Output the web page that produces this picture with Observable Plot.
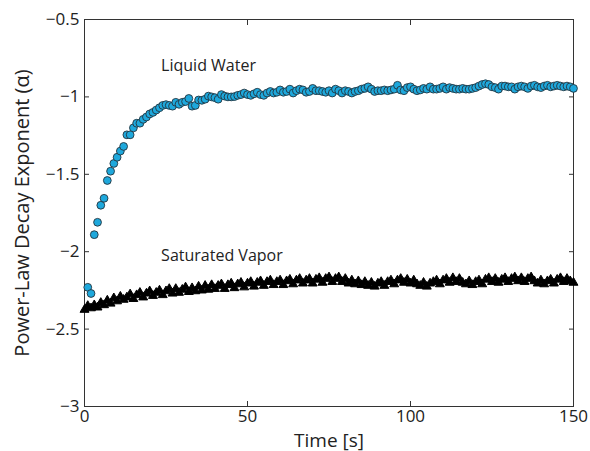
<!DOCTYPE html>
<html><head><meta charset="utf-8">
<script src="https://cdn.jsdelivr.net/npm/d3@7"></script>
<script src="https://cdn.jsdelivr.net/npm/@observablehq/plot@0.6"></script>
<style>body{margin:0;background:#fff;font-family:"Open Sans",sans-serif}</style>
</head><body><div id="chart"></div>
<script>
// Liquid water: one sample per second, t = 1..150
const liquidTime = d3.range(1, 151);
const liquidAlpha = [
 -2.23,-2.27,-1.89,-1.81,-1.70,-1.655,-1.54,-1.48,-1.43,-1.39,
 -1.35,-1.32,-1.245,-1.245,-1.20,-1.17,-1.17,-1.145,-1.13,-1.11,
 -1.10,-1.085,-1.07,-1.055,-1.05,-1.055,-1.06,-1.035,-1.048,-1.035,
 -1.03,-1.01,-1.06,-1.055,-1.02,-1.022,-1.015,-0.995,-1.0,-1.005,
 -1.015,-0.985,-0.995,-1.0,-1.0,-0.998,-0.99,-0.985,-0.975,-0.985,
 -0.99,-0.98,-0.97,-0.985,-0.99,-0.975,-0.965,-0.975,-0.97,-0.955,
 -0.97,-0.965,-0.95,-0.975,-0.96,-0.95,-0.955,-0.97,-0.965,-0.945,
 -0.96,-0.96,-0.965,-0.97,-0.96,-0.975,-0.95,-0.96,-0.975,-0.96,
 -0.965,-0.975,-0.965,-0.96,-0.95,-0.945,-0.935,-0.95,-0.965,-0.96,
 -0.96,-0.955,-0.96,-0.955,-0.95,-0.925,-0.955,-0.96,-0.94,-0.935,
 -0.95,-0.96,-0.955,-0.945,-0.95,-0.935,-0.95,-0.95,-0.945,-0.935,
 -0.95,-0.94,-0.945,-0.95,-0.95,-0.945,-0.95,-0.95,-0.945,-0.94,
 -0.93,-0.92,-0.915,-0.92,-0.935,-0.94,-0.95,-0.93,-0.93,-0.935,
 -0.935,-0.95,-0.935,-0.93,-0.935,-0.945,-0.93,-0.925,-0.935,-0.94,
 -0.93,-0.925,-0.935,-0.93,-0.925,-0.93,-0.935,-0.93,-0.935,-0.945
];
// Saturated vapor: one sample per second, t = 0..150
const vaporTime = d3.range(0, 151);
const vaporAlpha = [
 -2.375,-2.35,-2.365,-2.345,-2.36,-2.33,-2.345,-2.315,-2.335,-2.30,
 -2.32,-2.29,-2.31,-2.295,-2.275,-2.305,-2.28,-2.265,-2.295,-2.27,
 -2.255,-2.285,-2.265,-2.25,-2.28,-2.255,-2.24,-2.27,-2.24,-2.265,
 -2.245,-2.23,-2.26,-2.235,-2.255,-2.225,-2.25,-2.22,-2.245,-2.215,
 -2.24,-2.22,-2.21,-2.24,-2.215,-2.205,-2.235,-2.21,-2.2,-2.23,
 -2.205,-2.195,-2.225,-2.2,-2.19,-2.22,-2.195,-2.185,-2.215,-2.195,
 -2.185,-2.215,-2.19,-2.18,-2.21,-2.185,-2.175,-2.205,-2.185,-2.175,
 -2.205,-2.18,-2.17,-2.2,-2.175,-2.165,-2.195,-2.175,-2.165,-2.195,
 -2.175,-2.205,-2.185,-2.21,-2.19,-2.215,-2.195,-2.22,-2.2,-2.225,
 -2.205,-2.195,-2.22,-2.195,-2.185,-2.21,-2.185,-2.175,-2.2,-2.18,
 -2.205,-2.185,-2.21,-2.22,-2.2,-2.225,-2.205,-2.195,-2.185,-2.21,
 -2.185,-2.175,-2.2,-2.17,-2.195,-2.175,-2.2,-2.21,-2.19,-2.215,
 -2.195,-2.185,-2.21,-2.18,-2.17,-2.195,-2.175,-2.2,-2.18,-2.17,
 -2.195,-2.175,-2.165,-2.19,-2.17,-2.195,-2.175,-2.165,-2.19,-2.205,
 -2.185,-2.21,-2.19,-2.18,-2.205,-2.18,-2.17,-2.195,-2.175,-2.19,
 -2.2
];
const xTicks = [0, 50, 100, 150];
const yTicks = [-3, -2.5, -2, -1.5, -1, -0.5];
const seriesLabels = ["Liquid Water", "Saturated Vapor"];
const labelX = [23.5, 23.5];
const labelY = [-0.8, -2.03];

const liquid = liquidTime.map((t, i) => ({t, a: liquidAlpha[i]}));
const vapor = vaporTime.map((t, i) => ({t, a: vaporAlpha[i]}));
const notes = seriesLabels.map((s, i) => ({s, x: labelX[i], y: labelY[i]}));
const fmt = d3.format("");

const chart = Plot.plot({
  width: 590, height: 451,
  marginLeft: 84, marginRight: 17, marginTop: 19, marginBottom: 45,
  style: {fontFamily: "'Open Sans', sans-serif", fontSize: "14px", color: "#222", background: "#fff"},
  x: {domain: [0, 150]},
  y: {domain: [-3, -0.5]},
  marks: [
    Plot.frame({stroke: "#333", strokeWidth: 1}),
    Plot.axisX(xTicks, {anchor: "bottom", tickSize: -5, tickFormat: fmt, tickPadding: 8, fontSize: 17, label: "Time [s]", labelAnchor: "center", labelOffset: 40, labelArrow: false, stroke: "#333"}),
    Plot.axisX(xTicks, {anchor: "top", tickSize: -5, text: null, label: null, stroke: "#333"}),
    Plot.axisY(yTicks, {anchor: "left", tickSize: -5, tickFormat: fmt, tickPadding: 10, fontSize: 17, label: "Power-Law Decay Exponent (α)", labelAnchor: "center", labelOffset: 70, labelArrow: false, stroke: "#333"}),
    Plot.axisY(yTicks, {anchor: "right", tickSize: -5, text: null, label: null, stroke: "#333"}),
    Plot.dot(vapor, {x: "t", y: "a", symbol: "triangle", r: 3.3, fill: "black", stroke: "black", strokeWidth: 1}),
    Plot.dot(liquid, {x: "t", y: "a", r: 3.9, fill: "#1ea8dc", stroke: "#24343e", strokeWidth: 0.9}),
    Plot.text(notes, {x: "x", y: "y", text: "s", textAnchor: "start", fontSize: 16, fill: "#222"})
  ]
});
// axis titles use a larger size than tick labels
chart.querySelectorAll("[aria-label='x-axis label'] text").forEach(t => t.setAttribute("font-size", 19));
chart.querySelectorAll("[aria-label='y-axis label'] text").forEach(t => t.setAttribute("font-size", 20));
document.getElementById("chart").append(chart);
</script></body></html>
